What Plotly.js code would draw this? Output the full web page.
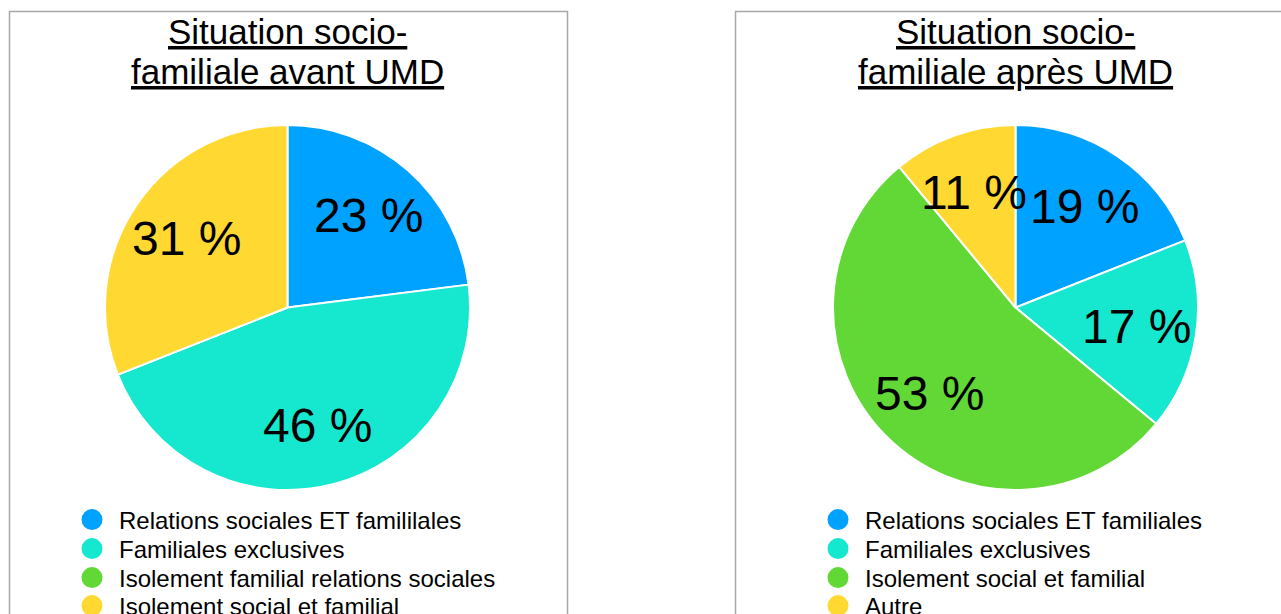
<!DOCTYPE html>
<html>
<head>
<meta charset="utf-8">
<script src="https://cdn.plot.ly/plotly-3.0.1.min.js"></script>
<style>
html,body{margin:0;padding:0;background:#fff;}
#chart{width:1281px;height:614px;}
</style>
</head>
<body>
<div id="chart"></div>
<script>
// ---- data ----
const categoriesAvant = ['Relations sociales ET famililales', 'Familiales exclusives', 'Isolement familial relations sociales', 'Isolement social et familial'];
const valuesAvant = [23, 46, 0, 31];
const categoriesApres = ['Relations sociales ET familiales', 'Familiales exclusives', 'Isolement social et familial', 'Autre'];
const valuesApres = [19, 17, 53, 11];
const sliceColors = ['#00A2FF', '#16E7CF', '#61D836', '#FFD932'];
const titleAvant = ['Situation socio-', 'familiale avant UMD'];
const titleApres = ['Situation socio-', 'familiale après UMD'];

// ---- layout geometry (pixels) ----
const W = 1281, H = 614;
const CY = 307.5, R = 182.5;
const FONT = 'Liberation Sans, Arial, Helvetica, sans-serif';
const panels = [
  {cats: categoriesAvant, vals: valuesAvant, title: titleAvant, cx: 287.5, legendX: 65, frame: [9.5, 567.5]},
  {cats: categoriesApres, vals: valuesApres, title: titleApres, cx: 1015.5, legendX: 811, frame: [735.5, 1300]}
];
const legendRowY = [520, 549, 578, 606];
const titleLineY = [31, 71];
const labelRadius = 0.67;

const px = x => x / W;
const py = y => 1 - y / H;

const traces = [];
const annotations = [];
const shapes = [];
const layout = {
  width: W, height: H,
  margin: {l: 0, r: 0, t: 0, b: 0, autoexpand: false},
  paper_bgcolor: '#fff', plot_bgcolor: '#fff',
  showlegend: true,
  xaxis: {visible: false}, yaxis: {visible: false},
  font: {family: FONT, color: '#000'}
};

let legendIdx = 0;
panels.forEach((p, pi) => {
  const dom = {x: [px(p.cx - R), px(p.cx + R)], y: [py(CY + R), py(CY - R)]};
  traces.push({
    type: 'pie', labels: p.cats, values: p.vals, domain: dom,
    sort: false, direction: 'clockwise', rotation: 0,
    marker: {colors: sliceColors, line: {color: '#ffffff', width: 2}},
    textinfo: 'none', showlegend: false, hoverinfo: 'label+percent'
  });

  // legend entries (circle markers), one legend per row
  p.cats.forEach((c, i) => {
    legendIdx++;
    const key = legendIdx === 1 ? 'legend' : 'legend' + legendIdx;
    traces.push({
      type: 'scatter', mode: 'markers', x: [null], y: [null], name: c,
      marker: {color: sliceColors[i], size: 16, line: {color: sliceColors[i], width: 5}},
      legend: key, showlegend: true, hoverinfo: 'skip'
    });
    layout[key] = {
      x: px(p.legendX), xanchor: 'left', y: py(legendRowY[i]), yanchor: 'middle',
      bgcolor: 'rgba(0,0,0,0)', borderwidth: 0, itemwidth: 44,
      font: {family: FONT, size: 24, color: '#000'},
      itemclick: false, itemdoubleclick: false
    };
  });

  // percentage labels at slice mid-angles
  const total = p.vals.reduce((a, b) => a + b, 0);
  let cum = 0;
  p.vals.forEach(v => {
    if (v > 0) {
      const th = 2 * Math.PI * (cum + v / 2) / total;
      const lx = p.cx + labelRadius * R * Math.sin(th);
      const ly = CY - labelRadius * R * Math.cos(th);
      annotations.push({
        x: px(lx), y: py(ly), xref: 'paper', yref: 'paper',
        xanchor: 'center', yanchor: 'middle', showarrow: false,
        text: v + ' %', font: {family: FONT, size: 48, color: '#000'}
      });
    }
    cum += v;
  });

  // title lines (underlined)
  p.title.forEach((t, li) => {
    annotations.push({
      x: px(p.cx), y: py(titleLineY[li]), xref: 'paper', yref: 'paper',
      xanchor: 'center', yanchor: 'middle', showarrow: false,
      text: '<u>' + t + '</u>', font: {family: FONT, size: 35, color: '#000'}
    });
  });

  shapes.push({
    type: 'rect', xref: 'paper', yref: 'paper', layer: 'below',
    x0: px(p.frame[0]), x1: px(p.frame[1]), y0: -0.1, y1: py(11.5),
    line: {color: '#a8a8a8', width: 1.5}, fillcolor: 'rgba(0,0,0,0)'
  });
});

layout.annotations = annotations;
layout.shapes = shapes;

Plotly.newPlot('chart', traces, layout, {displayModeBar: false, staticPlot: false});
</script>
</body>
</html>
